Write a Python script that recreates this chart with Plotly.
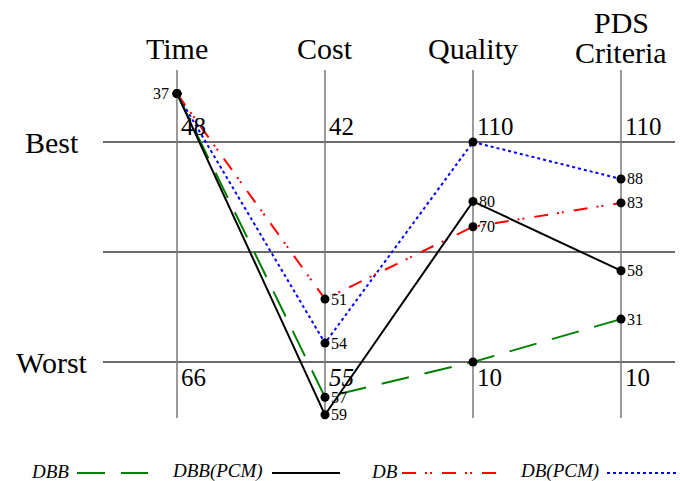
import plotly.graph_objects as go

# Criteria shown as parallel vertical axes
criteria = ["Time", "Cost", "Quality", "PDS Criteria"]
best_labels = [48, 42, 110, 110]
worst_labels = [66, 55, 10, 10]

# Raw criterion values for each delivery method (shown as point labels)
series_names = ["DBB", "DBB(PCM)", "DB", "DB(PCM)"]
dbb_values = [37, 57, 10, 31]
dbb_pcm_values = [37, 59, 80, 58]
db_values = [37, 51, 70, 83]
db_pcm_values = [37, 54, 110, 88]

# Normalised performance score on each axis (Worst = 0, Best = 100)
dbb_scores = [122, -16, 0, 19.5]
dbb_pcm_scores = [122, -24, 73, 41.5]
db_scores = [122, 28.6, 61.5, 72.3]
db_pcm_scores = [122, 8.6, 100, 83.2]

W, H = 680, 481
SERIF = "Liberation Serif, Times New Roman, serif"

styles = {
    "DBB": dict(color="#008000", dash="28px,16px", width=2),
    "DBB(PCM)": dict(color="#000000", dash="solid", width=2),
    "DB": dict(color="#ff0000", dash="14px,9px,2px,3px,2px,10px", width=2),
    "DB(PCM)": dict(color="#0000ff", dash="3px,3px", width=2),
}
values = {
    "DBB": dbb_values, "DBB(PCM)": dbb_pcm_values,
    "DB": db_values, "DB(PCM)": db_pcm_values,
}
scores = {
    "DBB": dbb_scores, "DBB(PCM)": dbb_pcm_scores,
    "DB": db_scores, "DB(PCM)": db_pcm_scores,
}

xs = list(range(len(criteria)))

# pixel helpers for decorative layout items (paper coordinates)
def px(x):
    return x / W

def py(y):
    return 1 - y / H

fig = go.Figure()

draw_order = ["DB(PCM)", "DB", "DBB", "DBB(PCM)"]
for name in draw_order:
    st = styles[name]
    fig.add_trace(go.Scatter(
        x=xs, y=scores[name], mode="lines+markers", name=name,
        line=dict(color=st["color"], dash=st["dash"], width=st["width"]),
        marker=dict(color="black", size=9),
        cliponaxis=False, showlegend=False,
    ))

annotations = []

# point value labels; values that sit on an axis' Best/Worst mark are
# already printed there, and the shared Time start is labelled once
time_labelled = False
for name in series_names:
    for i, (v, s) in enumerate(zip(values[name], scores[name])):
        if v in (best_labels[i], worst_labels[i]) and i > 0:
            continue
        if i == 0:
            if time_labelled:
                continue
            time_labelled = True
            annotations.append(dict(x=xs[i], xref="x", y=s, yref="y", text=str(v),
                                    showarrow=False, xanchor="right", yanchor="middle",
                                    xshift=-6, yshift=0,
                                    font=dict(family=SERIF, size=16, color="black")))
        else:
            annotations.append(dict(x=xs[i], xref="x", y=s, yref="y", text=str(v),
                                    showarrow=False, xanchor="left", yanchor="middle",
                                    xshift=4, yshift=0,
                                    font=dict(family=SERIF, size=16, color="black")))

shapes = []
# horizontal reference lines: Worst, middle, Best
for lvl in [0, 50, 100]:
    shapes.append(dict(type="line", xref="x", yref="y", x0=-0.5, x1=3.365,
                       y0=lvl, y1=lvl, line=dict(color="#3a3a3a", width=1.3),
                       layer="below"))
# vertical criterion axes
for x in xs:
    shapes.append(dict(type="line", xref="x", yref="y", x0=x, x1=x,
                       y0=-25.5, y1=132.7, line=dict(color="#7a7a7a", width=1.5),
                       layer="below"))

# axis headers
header_y = [49, 49, 48, None]
for x, name, hy in zip(xs, criteria, header_y):
    if hy is None:
        continue
    annotations.append(dict(x=x, xref="x", y=py(hy), yref="paper", text=name,
                            showarrow=False, xanchor="center", yanchor="middle",
                            font=dict(family=SERIF, size=30, color="black")))
for line_text, hy in [("PDS", 22), ("Criteria", 53)]:
    annotations.append(dict(x=3, xref="x", y=py(hy), yref="paper", text=line_text,
                            showarrow=False, xanchor="center", yanchor="middle",
                            font=dict(family=SERIF, size=30, color="black")))

# Best / Worst row labels
for txt, lvl in [("Best", 100), ("Worst", 0)]:
    annotations.append(dict(x=px(52), xref="paper", y=lvl, yref="y", text=txt,
                            showarrow=False, xanchor="center", yanchor="middle",
                            font=dict(family=SERIF, size=30, color="black")))

# best / worst values on each axis
for x, b, w in zip(xs, best_labels, worst_labels):
    annotations.append(dict(x=x, xref="x", y=100, yref="y", text=str(b),
                            showarrow=False, xanchor="left", yanchor="bottom",
                            xshift=2, yshift=0,
                            font=dict(family=SERIF, size=25, color="black")))
    wt = "<i>" + str(w) + "</i>" if x == 1 else str(w)
    annotations.append(dict(x=x, xref="x", y=0, yref="y", text=wt,
                            showarrow=False, xanchor="left", yanchor="top",
                            xshift=2, yshift=0,
                            font=dict(family=SERIF, size=25, color="black")))

# legend: italic label followed by a line sample
legend_items = [("DBB", 29, 77, 148), ("DBB(PCM)", 170, 272, 340),
                ("DB", 369, 402, 497), ("DB(PCM)", 518, 607, 677)]
ly = 473
for name, tx, l0, l1 in legend_items:
    st = styles[name]
    annotations.append(dict(x=px(tx), xref="paper", y=py(ly - 2), yref="paper",
                            text="<i>" + name + "</i>", showarrow=False,
                            xanchor="left", yanchor="middle",
                            font=dict(family=SERIF, size=19, color="black")))
    shapes.append(dict(type="line", xref="paper", yref="paper",
                       x0=px(l0), x1=px(l1), y0=py(ly), y1=py(ly),
                       line=dict(color=st["color"], dash=st["dash"], width=st["width"])))

fig.update_layout(
    width=W, height=H,
    margin=dict(l=0, r=0, t=0, b=0),
    paper_bgcolor="white", plot_bgcolor="white",
    xaxis=dict(range=[-177 / 148, (W - 177) / 148], visible=False, fixedrange=True),
    yaxis=dict(range=[(362 - H) / 2.2, 362 / 2.2], visible=False, fixedrange=True),
    shapes=shapes, annotations=annotations,
    showlegend=False,
)

fig.write_html("out.html")
